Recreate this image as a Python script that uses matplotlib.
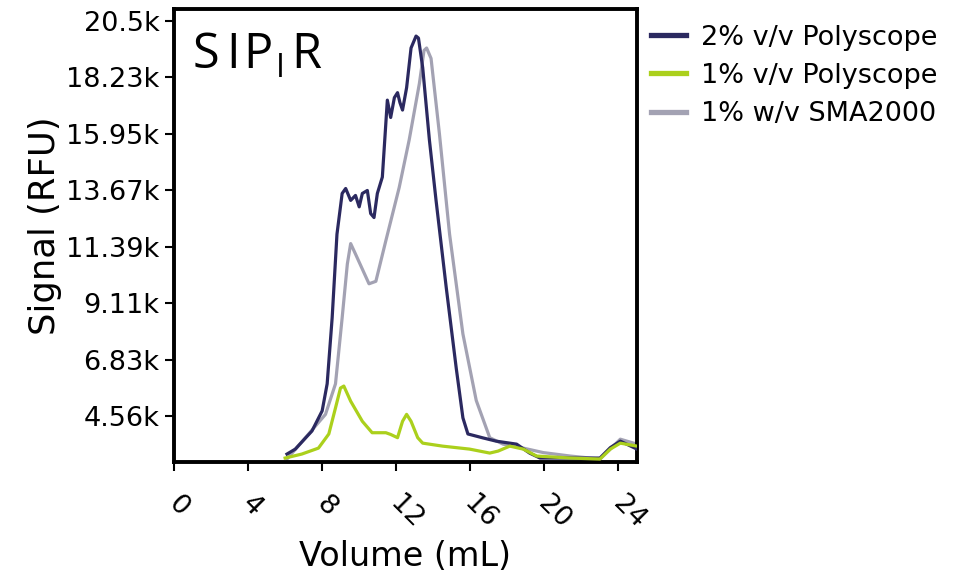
import matplotlib
matplotlib.use("Agg")
import matplotlib.pyplot as plt
import matplotlib.transforms as mtransforms

# ---- data ----
vol_2pct = [6.1, 6.55, 7.45, 8.0, 8.27, 8.54, 8.8, 9.08, 9.27, 9.54, 9.8, 10.0, 10.17, 10.44,
            10.62, 10.8, 10.98, 11.25, 11.52, 11.7, 11.9, 12.07, 12.2, 12.34, 12.56, 12.8,
            13.07, 13.2, 13.43, 13.79, 14.15, 14.7, 15.24, 15.6, 15.87, 16.69, 17.4, 18.5,
            19.2, 19.76, 21.4, 23.0, 23.56, 24.1, 25.0]
sig_2pct = [3040, 3240, 3970, 4780, 5870, 8530, 11900, 13540, 13740, 13260, 13460, 13000,
            13540, 13660, 12730, 12570, 13540, 14200, 17300, 16600, 17400, 17600, 17200,
            16900, 17800, 19400, 19880, 19800, 18600, 15700, 13260, 9750, 6500, 4500, 3850,
            3690, 3560, 3440, 3080, 2880, 2880, 2880, 3300, 3560, 3240]

vol_1pct = [6.0, 6.9, 7.8, 8.36, 8.72, 8.99, 9.17, 9.54, 10.17, 10.7, 11.44, 11.7, 12.07,
            12.34, 12.56, 12.8, 13.16, 13.43, 14.5, 15.96, 17.05, 17.5, 18.13, 18.86, 19.58,
            21.4, 23.0, 23.56, 24.1, 25.0]
sig_1pct = [2880, 3040, 3280, 3850, 4900, 5700, 5780, 5170, 4360, 3900, 3900, 3830, 3700,
            4360, 4640, 4360, 3700, 3480, 3360, 3240, 3080, 3160, 3360, 3240, 2960, 2880,
            2840, 3240, 3480, 3360]

vol_sma = [6.1, 7.27, 8.18, 8.72, 9.08, 9.36, 9.54, 9.8, 10.53, 10.9, 11.44, 12.16, 12.7,
           13.25, 13.5, 13.64, 13.88, 14.33, 14.88, 15.6, 16.32, 17.05, 17.77, 18.86, 19.94,
           21.4, 23.0, 23.56, 24.1, 25.0]
sig_sma = [2840, 3850, 4640, 5870, 8530, 10700, 11520, 11100, 9900, 10000, 11640, 13780,
           15700, 17970, 19300, 19400, 18980, 15960, 11900, 7880, 5200, 3700, 3440, 3280,
           3100, 2960, 2840, 3240, 3640, 3440]

series_labels = ["2% v/v Polyscope", "1% v/v Polyscope", "1% w/v SMA2000"]
xtick_values = [0, 4, 8, 12, 16, 20, 24]
ytick_values = [4560, 6830, 9110, 11390, 13670, 15950, 18230, 20500]
ytick_labels = ["4.56k", "6.83k", "9.11k", "11.39k", "13.67k", "15.95k", "18.23k", "20.5k"]

# ---- styling ----
c_navy = "#2b2960"
c_green = "#abd01c"
c_gray = "#a3a2b3"

fig = plt.figure(figsize=(9.55, 5.75), dpi=100)
ax = fig.add_axes([0.1822, 0.1965, 0.667 - 0.1822, 0.9843 - 0.1965])

ax.plot(vol_sma, sig_sma, color=c_gray, lw=2.3, label=series_labels[2], zorder=2)
ax.plot(vol_2pct, sig_2pct, color=c_navy, lw=2.3, label=series_labels[0], zorder=3)
ax.plot(vol_1pct, sig_1pct, color=c_green, lw=2.3, label=series_labels[1], zorder=4)

ax.set_xlim(0, 25)
ax.set_ylim(2720, 20970)
ax.set_xticks(xtick_values)
ax.set_xticklabels([str(v) for v in xtick_values], rotation=-45, ha="left",
                   va="center", rotation_mode="anchor")
ax.set_yticks(ytick_values)
ax.set_yticklabels(ytick_labels)

for s in ax.spines.values():
    s.set_linewidth(2.8)
    s.set_color("black")
ax.tick_params(axis="both", direction="out", length=6.5, width=1.5, labelsize=19.5,
               colors="black")
ax.tick_params(axis="x", pad=21)
ax.tick_params(axis="y", pad=4)
shift = mtransforms.ScaledTranslation(-2 / 100, 0, fig.dpi_scale_trans)
for lab in ax.get_xticklabels():
    lab.set_transform(lab.get_transform() + shift)

ax.set_xlabel("Volume (mL)", fontsize=24)
ax.set_ylabel("Signal (RFU)", fontsize=25.5)
ax.xaxis.set_label_coords(0.5, -0.172)
ax.yaxis.set_label_coords(-0.241, 0.522)

# panel title "SIP_I R" with the wide letter spacing of the reference
title_font = dict(family="Open Sans", color="black")
for ch, dx, dy, fs in [("S", 19, -59, 35), ("I", 52, -59, 35), ("P", 69, -59, 35),
                       ("I", 102, -68, 23), ("R", 117, -59, 35)]:
    ax.annotate(ch, xy=(0, 1), xycoords="axes fraction", xytext=(dx, dy),
                textcoords="offset pixels", fontsize=fs, ha="left", va="baseline",
                **title_font)

handles, labels = ax.get_legend_handles_labels()
order = [1, 2, 0]
leg = fig.legend([handles[i] for i in order], [labels[i] for i in order],
                 loc="upper left", bbox_to_anchor=(0.6618, 0.99), frameon=False,
                 fontsize=19.5, handlelength=1.3, handletextpad=0.55, labelspacing=0.45,
                 borderaxespad=0.3)
for line in leg.get_lines():
    line.set_linewidth(3.8)

fig.savefig("out.png", dpi=100, facecolor="white")
